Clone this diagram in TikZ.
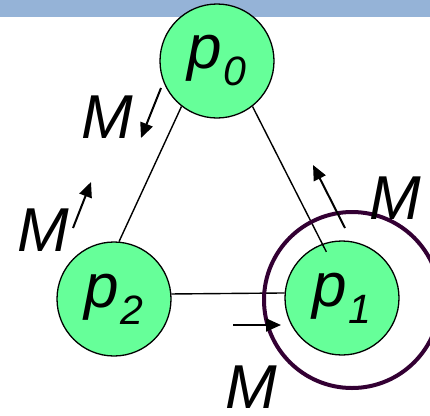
\documentclass[tikz,border=0pt]{standalone}
\usepackage{fontspec}
\setmainfont{Liberation Sans}
\usetikzlibrary{arrows.meta}
\definecolor{procgreen}{HTML}{66FF99}
\definecolor{bandblue}{HTML}{95B3D7}
\definecolor{ringpurple}{HTML}{330033}
\newcommand{\procname}[1]{\itshape p\kern1pt\raisebox{-17pt}{\fontsize{41}{41}\selectfont #1}}

\begin{document}
\begin{tikzpicture}[x=1pt,y=-1pt,
		proc/.style={circle, draw, fill=procgreen, line width=1.3pt, minimum size=114pt, inner sep=0pt, font=\fontsize{62}{62}\selectfont},
		msg/.style={font=\fontsize{62}{62}\selectfont\itshape, inner sep=0pt},
		link/.style={line width=1.4pt},
		send/.style={line width=2pt, -{Triangle[length=15pt,width=13pt]}}]
		\useasboundingbox (0,0) rectangle (430,415);
		\clip (0,0) rectangle (430,415);
		
		% Title band
		\fill[bandblue] (0,0) rectangle (430,17);
		
		% Processes
		\node[proc] (p0) at (217,61) {\procname{0}};
		\node[proc] (p1) at (342,298) {\procname{1}};
		\node[proc] (p2) at (114,299) {\procname{2}};
		
		% Channels
		\draw[link] (p0.232) -- (p2.85);
		\draw[link, shorten >=-9pt] (p0.308) -- (p1.110);
		\draw[link] (p2.5) -- (p1.175);
		
		% Marked process
		\node[circle, draw=ringpurple, line width=4pt, minimum size=176pt] (ring) at (352,300) {};
		
		% Message ends
		\coordinate (m0a) at (161,88);  \coordinate (m0b) at (141,138);
		\coordinate (m2a) at (73,228);  \coordinate (m2b) at (91,182);
		\coordinate (m1a) at (345,228); \coordinate (m1b) at (313,165);
		\coordinate (m3a) at (233,325); \coordinate (m3b) at (281,325);
		
		% Messages in transit
		\draw[send] (m0a) -- (m0b);
		\draw[send] (m2a) -- (m2b);
		\draw[send] (m1a) -- (m1b);
		\draw[send] (m3a) -- (m3b);
		
		% Message labels
		\node[msg] (M0) at (107,117) {M};
		\node[msg] (M2) at (43,230) {M};
		\node[msg] (M1) at (395,198) {M};
		\node[msg] (M3) at (251,387) {M};
		
	\end{tikzpicture}
\end{document}
